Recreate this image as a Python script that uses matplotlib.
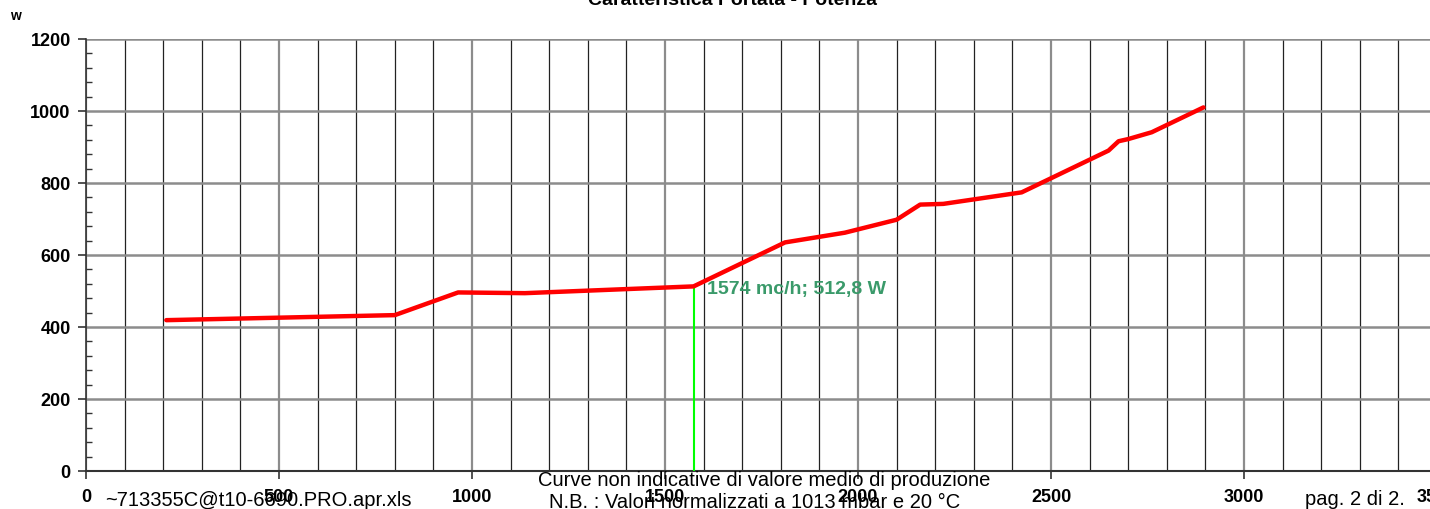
import numpy as np
import matplotlib.pyplot as plt
from matplotlib.ticker import MultipleLocator

plt.rcParams['font.family'] = ['Liberation Sans', 'DejaVu Sans']

# portata (mc/h) e potenza (W)
portata = [208, 800, 964, 1137, 1574, 1811, 1966, 2100, 2161, 2221, 2424, 2649, 2675, 2700, 2761, 2895]
potenza = [419, 433, 496, 494, 512.8, 635, 662, 698, 740, 742, 774, 890, 916, 922, 941, 1010]
punto_x = 1574
punto_y = 512.8

fig = plt.figure(figsize=(14.3, 5.1), dpi=100)
ax = fig.add_axes([86 / 1430, 38 / 510, 1351 / 1430, 432 / 510])

ax.set_xlim(0, 3500)
ax.set_ylim(0, 1200)

ax.xaxis.set_major_locator(MultipleLocator(500))
ax.xaxis.set_minor_locator(MultipleLocator(100))
ax.yaxis.set_major_locator(MultipleLocator(200))
ax.yaxis.set_minor_locator(MultipleLocator(40))

ax.grid(which='minor', axis='x', color='#222222', lw=0.9)
ax.grid(which='major', axis='x', color='#8c8c8c', lw=1.6)
ax.grid(which='major', axis='y', color='#8c8c8c', lw=1.8)
ax.set_axisbelow(True)

for s in ['top', 'right']:
    ax.spines[s].set_visible(False)
ax.spines['left'].set_color('#333333')
ax.spines['bottom'].set_color('#333333')
ax.spines['left'].set_linewidth(1.2)
ax.spines['bottom'].set_linewidth(1.5)

ax.tick_params(axis='both', which='major', direction='out', length=6, width=1.2, colors='#333333',
               labelcolor='black', labelsize=13)
ax.tick_params(axis='x', which='major', pad=6)
ax.tick_params(axis='y', which='major', pad=5)
ax.tick_params(axis='x', which='minor', length=0)
ax.tick_params(axis='y', which='minor', direction='in', length=4, width=1, colors='#333333')
for lab in ax.get_xticklabels() + ax.get_yticklabels():
    lab.set_fontweight('bold')

ax.plot([punto_x, punto_x], [0, punto_y], color='#00ff00', lw=1.5, zorder=3)
ax.plot(portata, potenza, color='#ff0000', lw=3.2, solid_joinstyle='round',
        solid_capstyle='round', zorder=4)
ax.text(punto_x + 35, punto_y - 5, '1574 mc/h; 512,8 W', color='#3a9a6a',
        fontsize=14, fontweight='bold', va='center', ha='left')

fig.text(733 / 1430, 505 / 510, 'Caratteristica Portata - Potenza', ha='center',
         va='baseline', fontsize=14, fontweight='bold')
fig.text(15 / 1430, 1 - 16 / 510, 'w', ha='center', va='center', fontsize=10, fontweight='bold')

fig.text(105 / 1430, 1 - 501 / 510, '~713355C@t10-6690.PRO.apr.xls', ha='left', va='center', fontsize=14.5)
fig.text(764 / 1430, 1 - 481 / 510, 'Curve non indicative di valore medio di produzione',
         ha='center', va='center', fontsize=14.5)
fig.text(755 / 1430, 1 - 503 / 510, 'N.B. : Valori normalizzati a 1013 mbar e 20 °C',
         ha='center', va='center', fontsize=14.5)
fig.text(1305 / 1430, 1 - 500 / 510, 'pag. 2 di 2.', ha='left', va='center', fontsize=14.5)

fig.savefig('out.png', dpi=100)
